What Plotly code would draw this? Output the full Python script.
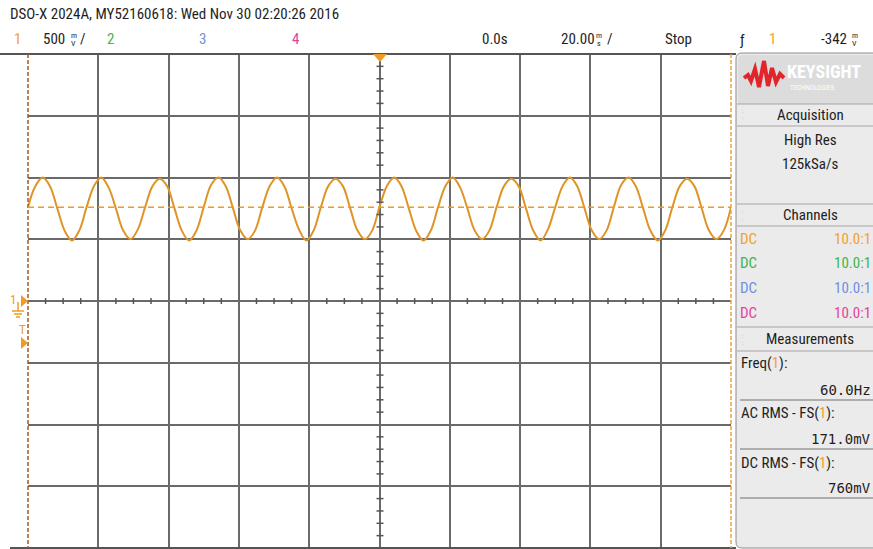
import plotly.graph_objects as go

time_ms = [-100.00, -97.92, -95.83, -93.75, -91.67, -89.58, -87.50, -85.42,
           -83.33, -81.25, -79.17, -77.08, -75.00, -72.92, -70.83, -68.75,
           -66.67, -64.58, -62.50, -60.42, -58.33, -56.25, -54.17, -52.08,
           -50.00, -47.92, -45.83, -43.75, -41.67, -39.58, -37.50, -35.42,
           -33.33, -31.25, -29.17, -27.08, -25.00, -22.92, -20.83, -18.75,
           -16.67, -14.58, -12.50, -10.42, -8.33, -6.25, -4.17, -2.08,
           0.00, 2.08, 4.17, 6.25, 8.33, 10.42, 12.50, 14.58,
           16.67, 18.75, 20.83, 22.92, 25.00, 27.08, 29.17, 31.25,
           33.33, 35.42, 37.50, 39.58, 41.67, 43.75, 45.83, 47.92,
           50.00, 52.08, 54.17, 56.25, 58.33, 60.42, 62.50, 64.58,
           66.67, 68.75, 70.83, 72.92, 75.00, 77.08, 79.17, 81.25,
           83.33, 85.42, 87.50, 89.58, 91.67, 93.75, 95.83, 97.92,
           100.00]
ch1_volts = [0.76, 0.93, 1.00, 0.93, 0.75, 0.57, 0.49, 0.57,
             0.76, 0.93, 1.00, 0.92, 0.75, 0.57, 0.50, 0.58,
             0.76, 0.93, 0.99, 0.93, 0.75, 0.57, 0.49, 0.57,
             0.76, 0.94, 1.00, 0.93, 0.75, 0.57, 0.50, 0.57,
             0.76, 0.93, 1.00, 0.93, 0.75, 0.58, 0.49, 0.57,
             0.76, 0.93, 0.99, 0.93, 0.75, 0.57, 0.50, 0.57,
             0.76, 0.93, 1.00, 0.93, 0.75, 0.57, 0.49, 0.57,
             0.76, 0.93, 1.00, 0.92, 0.75, 0.57, 0.50, 0.57,
             0.76, 0.93, 0.99, 0.93, 0.75, 0.57, 0.49, 0.58,
             0.76, 0.93, 1.00, 0.93, 0.75, 0.57, 0.50, 0.57,
             0.76, 0.94, 1.00, 0.93, 0.75, 0.57, 0.49, 0.57,
             0.76, 0.93, 0.99, 0.93, 0.75, 0.57, 0.50, 0.57,
             0.76]
dc_marker_v = 0.76
x_range = [-100, 100]     # 20 ms/div, 10 div
y_range = [-2.0, 2.0]     # 500 mV/div, 8 div
x_div, y_div = 20, 0.5

header = "DSO-X 2024A, MY52160618: Wed Nov 30 02:20:26 2016"
meas_labels = ["Freq(1):", "AC RMS - FS(1):", "DC RMS - FS(1):"]
meas_values = ["60.0Hz", "171.0mV", "760mV"]
chan_colors = ["#F2A12A", "#3DB54A", "#6F8FE3", "#E0449A"]

# ---------------- figure ----------------
W, H = 873, 549
def px(x): return x / W
def py(y): return 1 - y / H

ORANGE = "#EF9B26"
GRID = "#6A6A6A"
NARROW = "Liberation Sans Narrow, Roboto Condensed, DejaVu Sans Condensed, Roboto, sans-serif"
MONO = "DejaVu Sans Mono, Liberation Mono, monospace"

fig = go.Figure()
fig.add_trace(go.Scatter(x=time_ms, y=ch1_volts, mode="lines",
                         line=dict(color="#DE9427", width=2, shape="spline", smoothing=1.0),
                         hoverinfo="skip", showlegend=False))

fig.update_layout(
    width=W, height=H, margin=dict(l=0, r=0, t=0, b=0),
    paper_bgcolor="white", plot_bgcolor="white", showlegend=False,
    xaxis=dict(domain=[28 / W, 731 / W], range=x_range, dtick=x_div, tick0=0,
               showgrid=True, gridcolor=GRID, gridwidth=1.5, zeroline=False,
               showticklabels=False, ticks="", fixedrange=True),
    yaxis=dict(domain=[1 - 548 / H, 1 - 54 / H], range=y_range, dtick=y_div, tick0=0,
               showgrid=True, gridcolor=GRID, gridwidth=1.5, zeroline=False,
               showticklabels=False, ticks="", fixedrange=True),
)

shapes = []
def pline(x0, y0, x1, y1, color, width=1, dash="solid"):
    shapes.append(dict(type="line", xref="paper", yref="paper",
                       x0=px(x0), y0=py(y0), x1=px(x1), y1=py(y1),
                       line=dict(color=color, width=width, dash=dash), layer="above"))

# graticule border
pline(0, 54, 736, 54, "#555555", 2)
pline(10, 548, 736, 548, "#555555", 2)
pline(28, 54, 28, 548, "#A55A20", 1.5, "4px,2px")
pline(731, 54, 731, 548, "#E8A548", 1.5, "4px,2px")

# centre-axis minor ticks (5 ms horizontally, 0.1 V vertically)
for i in range(-20, 21):
    t = i * 5
    if i % 4 == 0:
        continue
    shapes.append(dict(type="line", xref="x", yref="paper", x0=t, x1=t,
                       y0=py(304), y1=py(298), line=dict(color="#555555", width=1.5)))
for j in range(-20, 21):
    v = j * 0.1
    if j % 5 == 0:
        continue
    shapes.append(dict(type="line", xref="paper", yref="y", x0=px(376.5), x1=px(383.5),
                       y0=v, y1=v, line=dict(color="#555555", width=1.5)))

# DC measurement marker line
shapes.append(dict(type="line", xref="x", yref="y", x0=x_range[0], x1=x_range[1],
                   y0=dc_marker_v, y1=dc_marker_v,
                   line=dict(color="#F29A1F", width=1.5, dash="6px,4px")))

def path(d, fill, line_color=None, width=0):
    shapes.append(dict(type="path", xref="paper", yref="paper", path=d, fillcolor=fill,
                       line=dict(color=line_color or fill, width=width), layer="above"))

def P(x, y): return f"{px(x):.5f},{py(y):.5f}"

# trigger position marker (top)
path(f"M {P(373,54)} L {P(387,54)} L {P(380,62)} Z", ORANGE)
# channel 1 ground marker
path(f"M {P(21,295)} L {P(28,301)} L {P(21,307)} Z", ORANGE)
pline(18, 302, 18, 311, ORANGE, 1.5)
pline(12, 311, 24, 311, ORANGE, 1.5)
pline(14, 314, 22, 314, ORANGE, 1.5)
pline(16, 317, 20, 317, ORANGE, 1.5)
# trigger level marker
path(f"M {P(21,337)} L {P(28,343)} L {P(21,349)} Z", ORANGE)

# right side panel
path(f"M {P(742,53)} L {P(880,53)} L {P(880,548)} L {P(742,548)} "
     f"Q {P(736,548)} {P(736,542)} L {P(736,59)} Q {P(736,53)} {P(742,53)} Z",
     "#EBEBEB", "#8C8C8C", 1)
path(f"M {P(743,55)} L {P(880,55)} L {P(880,104)} L {P(738,104)} L {P(738,60)} Q {P(738,55)} {P(743,55)} Z",
     "#DCDCDC")
for yy in (104, 126, 204, 226, 327, 351):
    pline(737, yy, 873, yy, "#A5A5A5", 1.2)
for yy in (400, 449, 498):
    pline(740, yy, 873, yy, "#707070", 1.2)

# Keysight logo (red burst)
logo = [(744, 78), (748, 75), (751, 81), (755, 69), (759, 87), (764, 61),
        (768, 86), (772, 68), (776, 82), (780, 74), (784, 78)]
d = "M " + " L ".join(P(x, y) for x, y in logo)
shapes.append(dict(type="path", xref="paper", yref="paper", path=d,
                   line=dict(color="#E2242B", width=4), layer="above"))

fig.update_layout(shapes=shapes)

def ann(x, y, text, size=14, color="#1E1E1E", xanchor="left", family=NARROW):
    fig.add_annotation(x=px(x), y=py(y), xref="paper", yref="paper", text=text,
                       showarrow=False, xanchor=xanchor, yanchor="middle",
                       font=dict(size=size, color=color, family=family), borderpad=0)

# header text
ann(9, 14, header, 15)
ann(17, 39, "1", 15, chan_colors[0], "center")
ann(42, 39, "500", 15)
ann(70, 35, "m", 8)
ann(70, 43, "V", 8)
ann(79, 39, "/", 15)
ann(110, 39, "2", 15, chan_colors[1], "center")
ann(202, 39, "3", 15, chan_colors[2], "center")
ann(295, 39, "4", 15, chan_colors[3], "center")
ann(495, 39, "0.0s", 15, xanchor="center")
ann(560, 39, "20.00", 15)
ann(595, 35, "m", 8)
ann(596, 43, "s", 8)
ann(606, 39, "/", 15)
ann(678, 39, "Stop", 15, xanchor="center")
ann(742, 40, "ƒ", 15, xanchor="center")
ann(772, 39, "1", 15, chan_colors[0], "center")
ann(820, 39, "-342", 15)
ann(851, 35, "m", 8)
ann(851, 43, "V", 8)

# left markers
ann(13, 299, "1", 13, ORANGE, "center")
ann(22, 329, "T", 13, ORANGE, "center")

# panel text
ann(786, 71, "<b>KEYSIGHT</b>", 18, "#FFFFFF")
ann(789, 88, "TECHNOLOGIES", 7, "#FFFFFF")
for yy in (115, 215, 339):
    ann(741, yy, ":<br>:", 5, "#8A8A8A")
ann(810, 115, "Acquisition", 15, xanchor="center")
ann(810, 140, "High Res", 15, xanchor="center")
ann(810, 164, "125kSa/s", 15, xanchor="center")
ann(810, 215, "Channels", 15, xanchor="center")
for i, yy in enumerate((239, 263, 288, 313)):
    ann(739, yy, "DC", 15, chan_colors[i])
    ann(872, yy, "10.0:1", 15, chan_colors[i], "right")
ann(810, 339, "Measurements", 15, xanchor="center")

meas_y = [(363, 390), (413, 439), (463, 488)]
for lab, val, (y1, y2) in zip(meas_labels, meas_values, meas_y):
    lab_html = lab.replace("(1)", f"(<span style='color:{chan_colors[0]}'>1</span>)")
    ann(740, y1, lab_html, 15)
    ann(872, y2, val, 14, xanchor="right", family=MONO)

fig.write_html("out.html", config={"displayModeBar": False},
               post_script="document.body.style.margin='0';")
